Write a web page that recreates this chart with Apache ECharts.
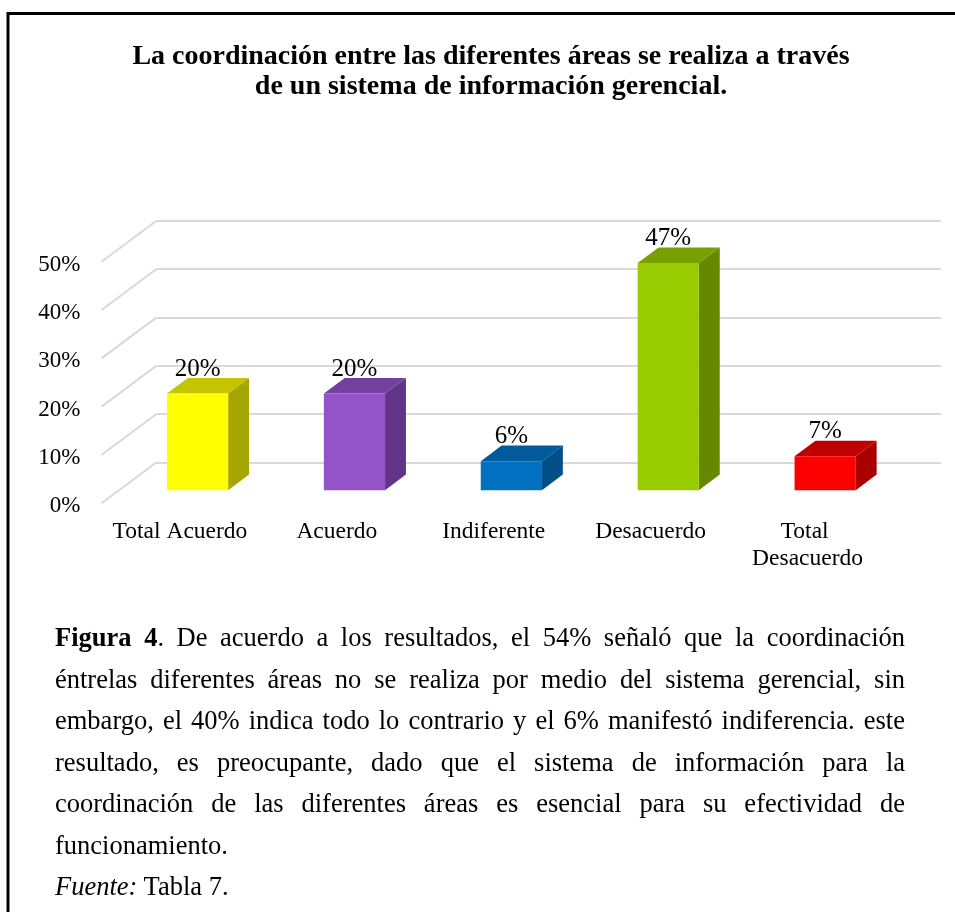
<!DOCTYPE html>
<html>
<head>
<meta charset="utf-8">
<script src="https://cdn.jsdelivr.net/npm/echarts@6/dist/echarts.min.js"></script>
<style>
  html, body { margin: 0; padding: 0; background: #fff; overflow: hidden; }
  #grafico { position: absolute; left: 0; top: 0; width: 955px; height: 912px; }
  #nota {
    position: absolute; left: 55px; top: 617px; width: 850px;
    font-family: 'Liberation Serif', 'Times New Roman', serif;
    font-size: 26.5px; line-height: 41.5px; color: #000;
  }
  #nota .j { text-align: justify; text-align-last: justify; }
</style>
</head>
<body>
<div id="grafico"></div>
<div id="nota">
  <div class="j"><b>Figura 4</b>. De acuerdo a los resultados, el 54% señaló que la coordinación</div>
  <div class="j">éntrelas diferentes áreas no se realiza por medio del sistema gerencial, sin</div>
  <div class="j">embargo, el 40% indica todo lo contrario y el 6% manifestó indiferencia. este</div>
  <div class="j">resultado, es preocupante, dado que el sistema de información para la</div>
  <div class="j">coordinación de las diferentes áreas es esencial para su efectividad de</div>
  <div>funcionamiento.</div>
  <div><i>Fuente:</i> Tabla 7.</div>
</div>
<script>
// datos del gráfico
var categorias = ['Total Acuerdo', 'Acuerdo', 'Indiferente', 'Desacuerdo', 'Total Desacuerdo'];
var porcentajes = [20, 20, 6, 47, 7];
var ticksY = [0, 10, 20, 30, 40, 50];

// colores de cada cara de las barras
var colorFrente = ['#ffff00', '#9354c9', '#0070c0', '#99cc00', '#ff0000'];
var colorLado = ['#a6a600', '#623488', '#004f88', '#668800', '#a80000'];
var colorTapa = ['#c4c400', '#7340a0', '#005a9c', '#78a000', '#c00000'];

var fuente = "'Liberation Serif', 'Times New Roman', serif";

// vector de profundidad (del plano de fondo al plano frontal)
var prof = [-55, 41];
var fFondo = 0.30, fFrente = 0.68;

var chart = echarts.init(document.getElementById('grafico'));

var option = {
  animation: false,
  backgroundColor: '#fff',
  graphic: [
    {
      type: 'rect',
      shape: { x: 8, y: 13.5, width: 1000, height: 1000 },
      style: { fill: 'none', stroke: '#000', lineWidth: 3 },
      silent: true
    },
    {
      type: 'text',
      x: 491, y: 42,
      style: {
        text: 'La coordinación entre las diferentes áreas se realiza a través\nde un sistema de información gerencial.',
        fontFamily: fuente, fontSize: 28, fontWeight: 'bold',
        lineHeight: 30, fill: '#000',
        align: 'center', verticalAlign: 'top'
      }
    }
  ],
  // grid 0: plano de fondo, grid 1: plano frontal
  grid: [
    { left: 156.5, right: 14, top: 220.7, bottom: 449.7 },
    { left: 101.5, right: 69, top: 264.7, bottom: 405.7 }
  ],
  xAxis: [
    {
      gridIndex: 0, type: 'category', data: categorias,
      axisLine: { show: false }, axisTick: { show: false }, axisLabel: { show: false }
    },
    {
      gridIndex: 1, type: 'category', data: categorias,
      axisLine: { show: false }, axisTick: { show: false },
      axisLabel: {
        interval: 0, margin: 12, color: '#000',
        fontFamily: fuente, fontSize: 23.5, lineHeight: 27,
        width: 155, overflow: 'break'
      }
    }
  ],
  yAxis: [
    {
      gridIndex: 0, type: 'value', min: 0, max: 50, interval: 10,
      axisLine: { show: false }, axisTick: { show: false }, axisLabel: { show: false },
      splitLine: { lineStyle: { color: '#d9d9d9', width: 2 } }
    },
    {
      gridIndex: 1, type: 'value', min: 0, max: 50, interval: 10,
      axisLine: { show: false }, axisTick: { show: false },
      splitLine: { show: false },
      axisLabel: {
        formatter: '{value}%', margin: 21, color: '#000',
        fontFamily: fuente, fontSize: 23
      }
    }
  ],
  series: [
    {
      // líneas diagonales de la pared lateral
      type: 'custom',
      xAxisIndex: 0, yAxisIndex: 0,
      silent: true,
      data: ticksY.map(function (v) { return [0, v]; }),
      renderItem: function (params, api) {
        var p = api.coord([0, api.value(1)]);
        var x0 = params.coordSys.x;
        return {
          type: 'line',
          shape: { x1: x0, y1: p[1], x2: x0 + prof[0], y2: p[1] + prof[1] },
          style: { stroke: '#d9d9d9', lineWidth: 2 }
        };
      }
    },
    {
      // barras en 3D
      type: 'custom',
      xAxisIndex: 0, yAxisIndex: 0,
      data: porcentajes.map(function (v, i) { return [i, v]; }),
      renderItem: function (params, api) {
        var i = api.value(0), v = api.value(1);
        var arriba = api.coord([i, v]);
        var base = api.coord([i, 0]);
        var w = api.size([1, 0])[0] * 0.39;
        var fx = prof[0] * fFrente, fy = prof[1] * fFrente;
        var dx = prof[0] * (fFondo - fFrente), dy = prof[1] * (fFondo - fFrente);
        var xl = arriba[0] + fx - w / 2, xr = arriba[0] + fx + w / 2;
        var yt = arriba[1] + fy, yb = base[1] + fy;
        return {
          type: 'group',
          children: [
            {
              type: 'polygon',
              shape: { points: [[xr, yt], [xr, yb], [xr + dx, yb + dy], [xr + dx, yt + dy]] },
              style: { fill: colorLado[i] }
            },
            {
              type: 'polygon',
              shape: { points: [[xl, yt], [xr, yt], [xr + dx, yt + dy], [xl + dx, yt + dy]] },
              style: { fill: colorTapa[i] }
            },
            {
              type: 'rect',
              shape: { x: xl, y: yt, width: w, height: yb - yt },
              style: { fill: colorFrente[i] }
            },
            {
              type: 'text',
              style: {
                x: (xl + xr) / 2, y: yt + dy - 9,
                text: v + '%', fill: '#000',
                fontFamily: fuente, fontSize: 25,
                align: 'center', verticalAlign: 'middle'
              }
            }
          ]
        };
      }
    }
  ]
};

chart.setOption(option);
</script>
</body>
</html>
